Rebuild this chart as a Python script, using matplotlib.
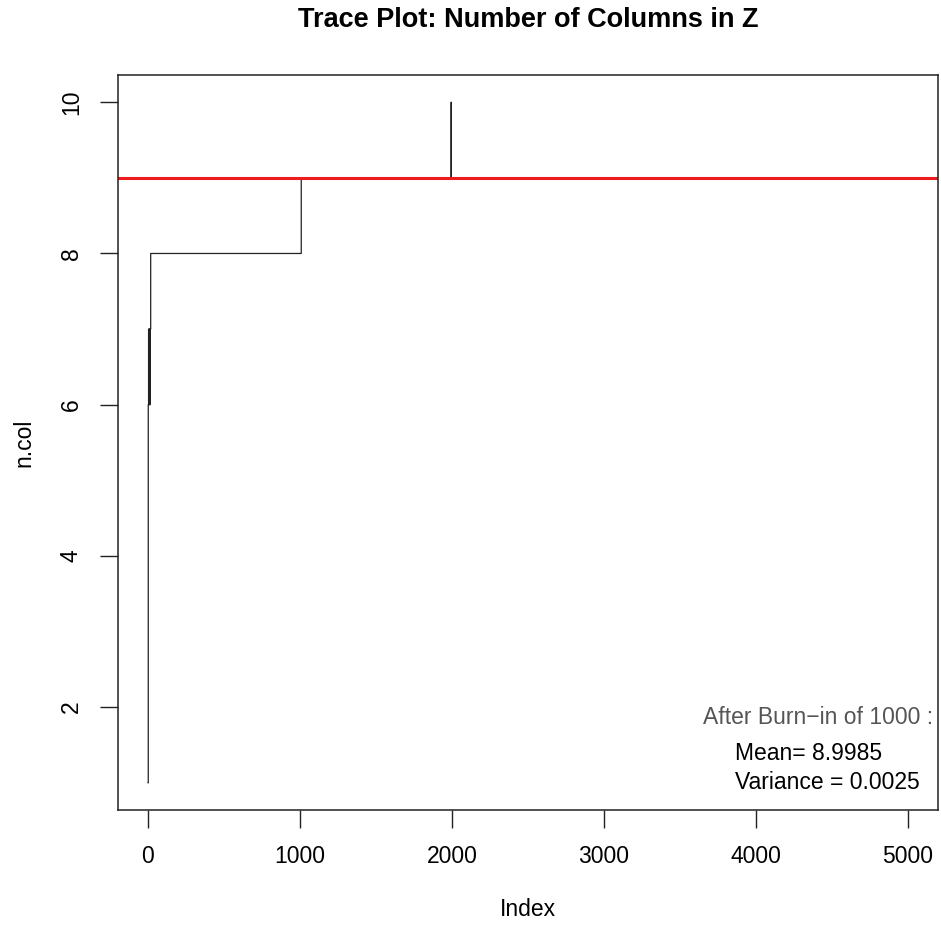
import numpy as np
import matplotlib
matplotlib.use("Agg")
import matplotlib.pyplot as plt

# Trace of n.col, stored as runs (value, length)
run_values = [1, 6, 7, 6, 7, 6, 7, 8, 9, 10, 9]
run_lengths = [1, 2, 3, 2, 4, 1, 4, 991, 986, 2, 3004]
burn_in = 1000
mean_line = 9
summary_mean = 8.9985
summary_var = 0.0025

x_ticks = [0, 1000, 2000, 3000, 4000, 5000]
y_ticks = [2, 4, 6, 8, 10]

n_col = np.repeat(run_values, run_lengths)
index = np.arange(1, len(n_col) + 1)

plt.rcParams["font.family"] = ["Liberation Sans", "DejaVu Sans"]

fig = plt.figure(figsize=(9.41, 9.25), dpi=100)
ax = fig.add_axes([0.1251, 0.1243, 0.9968 - 0.1251, 0.9189 - 0.1243])

ax.step(index, n_col, where="post", color="#222222", lw=0.9)
ax.axhline(mean_line, color="#ee1c1c", lw=2.2)

ax.set_xlim(-199, 5200)
ax.set_ylim(0.64, 10.36)
ax.set_xticks(x_ticks)
ax.set_yticks(y_ticks)
ax.set_yticklabels([str(v) for v in y_ticks], rotation=90, va="center")
ax.tick_params(labelsize=16.5, length=13, width=1.0, color="#222222")
ax.tick_params(axis="x", pad=12)
ax.tick_params(axis="y", pad=12)
for s in ax.spines.values():
    s.set_linewidth(1.1)
    s.set_color("#222222")

ax.set_xlabel("Index", fontsize=16.5, labelpad=22)
ax.set_ylabel("n.col", fontsize=16.5, labelpad=18)
fig.suptitle("Trace Plot: Number of Columns in Z", fontsize=19.5,
             fontweight="bold", x=0.561, y=0.992, va="top")

ax.text(5165, 1.87, f"After Burn\u2212in of {burn_in} :", fontsize=16.5,
        color="#555555", ha="right", va="center")
ax.text(3862, 1.39, f"Mean= {summary_mean}", fontsize=16.5, ha="left", va="center")
ax.text(3862, 1.01, f"Variance = {summary_var}", fontsize=16.5, ha="left", va="center")

fig.savefig("out.png", dpi=100)
